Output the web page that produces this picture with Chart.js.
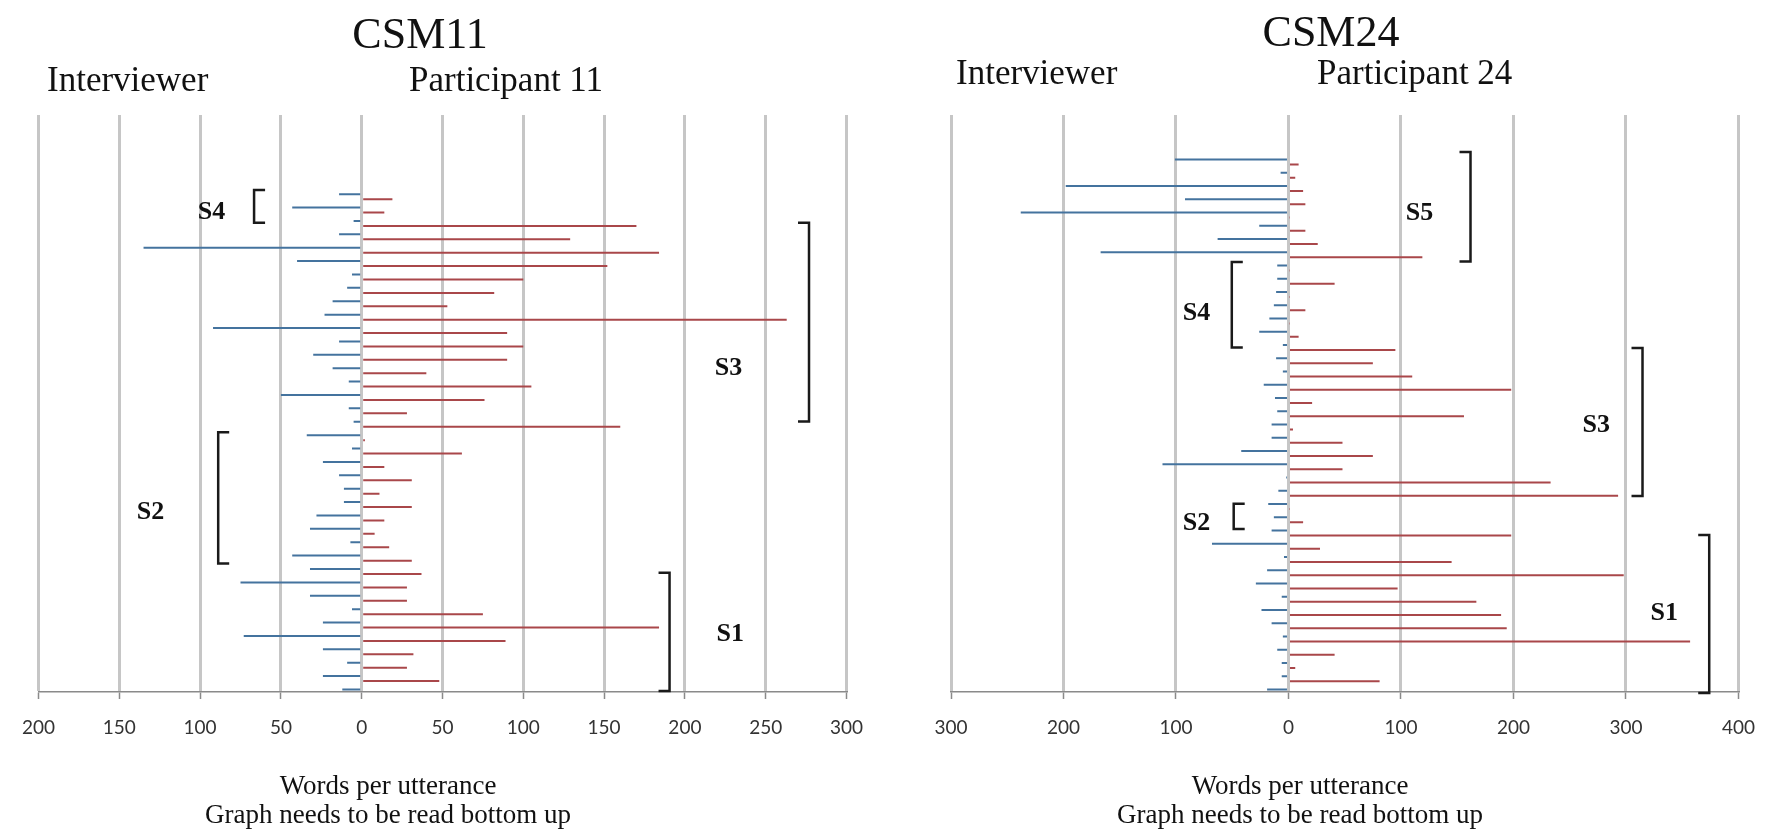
<!DOCTYPE html>
<html>
<head>
<meta charset="utf-8">
<script src="https://cdn.jsdelivr.net/npm/chart.js@4.4.1/dist/chart.umd.min.js"></script>
<style>
  html, body { margin: 0; padding: 0; background: #fff; }
  body { width: 1772px; height: 834px; position: relative; overflow: hidden; }
  canvas { position: absolute; top: 0; }
  #csm11 { left: 0; }
  #csm24 { left: 900px; }
</style>
</head>
<body>
<canvas id="csm11" width="900" height="834"></canvas>
<canvas id="csm24" width="872" height="834"></canvas>
<script>
// words per utterance, first utterance first (drawn at the bottom)
const csm11Interviewer = [-12, -24, -9, -24, -73, -24, -6, -32, -75, -32, -43, -7, -32, -28, -11, -11, -14, -24, -6, -34,
                          -5, -8, -50, -8, -18, -30, -14, -92, -23, -18, -9, -6, -40, -135, -14, -5, -43, -14];
const csm11Participant = [0, 48, 28, 32, 89, 184, 75, 28, 28, 37, 31, 17, 8, 14, 31, 11, 31, 14, 62, 2,
                          160, 28, 76, 105, 40, 90, 100, 90, 263, 53, 82, 100, 152, 184, 129, 170, 14, 19];
const csm11Ticks = [-200, -150, -100, -50, 0, 50, 100, 150, 200, 250, 300];

const csm24Interviewer = [-19, -6, -6, -10, -5, -15, -24, -6, -29, -19, -4, -68, -15, -13, -18, -9, -2, -112, -42, -15,
                          -15, -10, -12, -22, -5, -11, -5, -26, -17, -13, -11, -10, -10, -167, -63, -26, -238, -92, -198, -7, -101];
const csm24Participant = [0, 81, 6, 41, 357, 194, 189, 167, 97, 298, 145, 28, 198, 13, 1, 293, 233, 48, 75, 48,
                          4, 156, 21, 198, 110, 75, 95, 9, 1, 15, 1, 41, 1, 119, 26, 15, 1, 15, 13, 6, 9];
const csm24Ticks = [-300, -200, -100, 0, 100, 200, 300, 400];

const SERIF = '"Liberation Serif", "Times New Roman", serif';

// headings, footers and section brackets (x in words, from/to in utterance number)
const decor = {
  id: 'decor',
  afterDraw(chart, args, opts) {
    const { ctx } = chart;
    const x = chart.scales.x, y = chart.scales.y;
    ctx.save();
    ctx.fillStyle = '#111';
    ctx.textBaseline = 'middle';
    (opts.texts || []).forEach(t => {
      ctx.font = t.font;
      ctx.textAlign = t.align || 'left';
      ctx.fillText(t.text, t.x, t.y);
    });
    ctx.strokeStyle = '#1a1a1a';
    ctx.lineWidth = 2.5;
    (opts.brackets || []).forEach(b => {
      const px = x.getPixelForValue(b.x);
      const top = y.getPixelForValue(b.from);
      const bot = y.getPixelForValue(b.to);
      const d = b.side === '[' ? 11 : -11;
      ctx.beginPath();
      ctx.moveTo(px + d, top);
      ctx.lineTo(px, top);
      ctx.lineTo(px, bot);
      ctx.lineTo(px + d, bot);
      ctx.stroke();
      ctx.font = 'bold 26px ' + SERIF;
      ctx.textAlign = 'center';
      ctx.fillText(b.label, x.getPixelForValue(b.lx), y.getPixelForValue(b.ly));
    });
    ctx.restore();
  }
};

function makeChart(id, interviewer, participant, ticks, yTop, pad, decorOpts) {
  const turns = interviewer.map((v, i) => i + 1);
  return new Chart(document.getElementById(id), {
    type: 'bar',
    data: {
      datasets: [{
        label: 'Interviewer',
        data: turns.map((t, i) => ({ x: interviewer[i], y: t })),
        backgroundColor: '#44739e'
      }, {
        label: 'Participant',
        data: turns.map((t, i) => ({ x: participant[i], y: t })),
        backgroundColor: '#a9474a'
      }]
    },
    options: {
      indexAxis: 'y',
      responsive: false,
      animation: false,
      devicePixelRatio: 1,
      layout: { padding: pad },
      datasets: {
        bar: { categoryPercentage: 0.75, barPercentage: 1, maxBarThickness: 2, borderWidth: 0 }
      },
      plugins: {
        legend: { display: false },
        tooltip: { enabled: false },
        decor: decorOpts
      },
      scales: {
        x: {
          type: 'linear',
          min: ticks[0],
          max: ticks[ticks.length - 1],
          afterBuildTicks: s => { s.ticks = ticks.map(v => ({ value: v })); },
          afterFit: s => { s.height = 142; },
          grid: { color: '#c6c6c6', lineWidth: 3, drawTicks: true, tickLength: 7, tickColor: '#8a8a8a', tickWidth: 1.5 },
          border: { display: true, color: '#8a8a8a', width: 1.5 },
          ticks: {
            padding: 17,
            color: '#333',
            maxRotation: 0,
            autoSkip: false,
            font: { family: 'Lato, "Liberation Sans", sans-serif', size: 19 },
            callback: v => Math.abs(v)
          }
        },
        y: { type: 'linear', min: 1, max: yTop, offset: false, display: false }
      }
    },
    plugins: [decor]
  });
}

makeChart('csm11', csm11Interviewer, csm11Participant, csm11Ticks, 44.1,
  { top: 115, left: 38.5, right: 53.5, bottom: 0 },
  {
    texts: [
      { text: 'CSM11', x: 420, y: 36, font: '44px ' + SERIF, align: 'center' },
      { text: 'Interviewer', x: 47, y: 82, font: '35px ' + SERIF },
      { text: 'Participant 11', x: 409, y: 82, font: '35px ' + SERIF },
      { text: 'Words per utterance', x: 388, y: 787, font: '27px ' + SERIF, align: 'center' },
      { text: 'Graph needs to be read bottom up', x: 388, y: 816, font: '27px ' + SERIF, align: 'center' }
    ],
    brackets: [
      { label: 'S4', side: '[', x: -66.6, from: 38.5, to: 36.05, lx: -93, ly: 36.8 },
      { label: 'S3', side: ']', x: 276.8, from: 36.05, to: 21.2, lx: 227, ly: 25.2 },
      { label: 'S2', side: '[', x: -88.8, from: 20.4, to: 10.6, lx: -130.7, ly: 14.4 },
      { label: 'S1', side: ']', x: 190.5, from: 9.9, to: 1.07, lx: 228, ly: 5.3 }
    ]
  });

makeChart('csm24', csm24Interviewer, csm24Participant, csm24Ticks, 44.55,
  { top: 115, left: 51, right: 21, bottom: 0 },
  {
    texts: [
      { text: 'CSM24', x: 431, y: 34, font: '44px ' + SERIF, align: 'center' },
      { text: 'Interviewer', x: 56, y: 75, font: '35px ' + SERIF },
      { text: 'Participant 24', x: 417, y: 75, font: '35px ' + SERIF },
      { text: 'Words per utterance', x: 400, y: 787, font: '27px ' + SERIF, align: 'center' },
      { text: 'Graph needs to be read bottom up', x: 400, y: 816, font: '27px ' + SERIF, align: 'center' }
    ],
    brackets: [
      { label: 'S5', side: ']', x: 161.8, from: 41.75, to: 33.5, lx: 116.4, ly: 37.15 },
      { label: 'S4', side: '[', x: -50.4, from: 33.45, to: 27.0, lx: -81.8, ly: 29.6 },
      { label: 'S3', side: ']', x: 314.7, from: 26.96, to: 15.8, lx: 273.6, ly: 21.15 },
      { label: 'S2', side: '[', x: -48.7, from: 15.2, to: 13.3, lx: -81.8, ly: 13.75 },
      { label: 'S1', side: ']', x: 374, from: 12.85, to: 0.92, lx: 334, ly: 6.96 }
    ]
  });
</script>
</body>
</html>
